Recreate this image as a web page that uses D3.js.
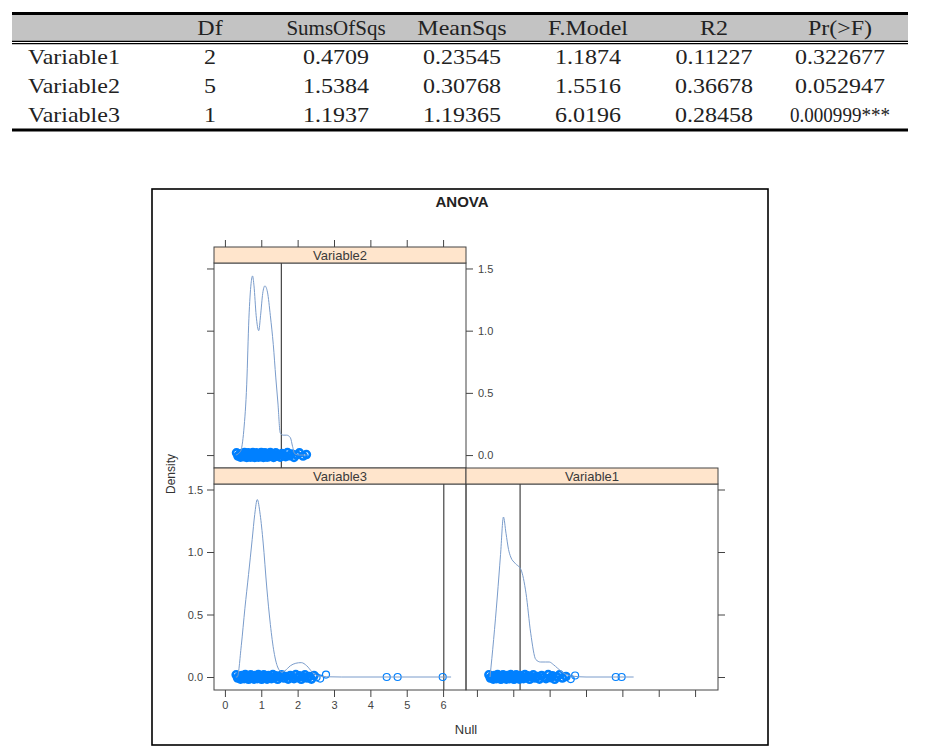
<!DOCTYPE html>
<html>
<head>
<meta charset="utf-8">
<script src="https://cdn.jsdelivr.net/npm/d3@7"></script>
<style>
  body { margin: 0; background: #fff; }
  svg { display: block; }
</style>
</head>
<body>
<div id="chart"></div>
<script>
// anova table + lattice style permutation density panels

// table data
const colNames = ['Df', 'SumsOfSqs', 'MeanSqs', 'F.Model', 'R2', 'Pr(>F)']
const rowNames = ['Variable1', 'Variable2', 'Variable3']
const dfCol = ['2', '5', '1']
const sumsOfSqs = ['0.4709', '1.5384', '1.1937']
const meanSqs = ['0.23545', '0.30768', '1.19365']
const fModel = ['1.1874', '1.5516', '6.0196']
const r2Col = ['0.11227', '0.36678', '0.28458']
const prCol = ['0.322677', '0.052947', '0.000999***']

// density curves (x = Null, y = Density)
const var1DensX = [0.36, 0.46, 0.56, 0.65, 0.73, 0.80, 0.87, 0.93, 1.05, 1.21, 1.35, 1.48, 1.62, 1.75, 1.88, 1.99, 2.10, 2.22, 2.39, 2.60, 3.00, 4.31]
const var1DensY = [0, 0.30, 0.64, 0.98, 1.28, 1.15, 1.02, 0.96, 0.91, 0.86, 0.67, 0.35, 0.14, 0.12, 0.12, 0.12, 0.10, 0.07, 0.03, 0.008, 0, 0]
const var2DensX = [0.30, 0.43, 0.52, 0.60, 0.66, 0.72, 0.76, 0.80, 0.86, 0.93, 0.98, 1.04, 1.10, 1.17, 1.25, 1.33, 1.40, 1.46, 1.52, 1.60, 1.70, 1.80, 1.86, 1.92, 2.05, 2.25]
const var2DensY = [0, 0.03, 0.20, 0.57, 1.10, 1.38, 1.44, 1.36, 1.12, 1.00, 1.12, 1.30, 1.36, 1.31, 1.12, 0.89, 0.62, 0.41, 0.18, 0.16, 0.16, 0.14, 0.07, 0.01, 0, 0]
const var3DensX = [0.30, 0.34, 0.45, 0.55, 0.65, 0.75, 0.82, 0.89, 0.97, 1.05, 1.15, 1.25, 1.35, 1.45, 1.56, 1.65, 1.80, 1.95, 2.10, 2.25, 2.40, 2.55, 2.80, 3.20, 6.22]
const var3DensY = [0, 0, 0.25, 0.55, 0.82, 1.10, 1.30, 1.42, 1.30, 1.08, 0.72, 0.42, 0.20, 0.08, 0.04, 0.05, 0.09, 0.11, 0.115, 0.09, 0.04, 0.01, 0.002, 0, 0]

// permuted F values shown as points along y = 0
const var1Null = [0.33, 0.37, 0.41, 0.45, 0.48, 0.51, 0.54, 0.57, 0.60, 0.63, 0.66, 0.69, 0.72, 0.75, 0.78, 0.81, 0.84, 0.87, 0.90, 0.93, 0.96, 0.99, 1.02, 1.05, 1.08, 1.11, 1.14, 1.17, 1.20, 1.24, 1.28, 1.32, 1.36, 1.40, 1.45, 1.50, 1.55, 1.60, 1.66, 1.72, 1.78, 1.84, 1.90, 1.96, 2.02, 2.08, 2.14, 2.20, 2.27, 2.35, 2.45, 2.58, 2.70, 3.82, 3.98]
const var2Null = [0.32, 0.36, 0.40, 0.43, 0.46, 0.49, 0.52, 0.54, 0.56, 0.58, 0.60, 0.62, 0.64, 0.66, 0.68, 0.70, 0.72, 0.74, 0.75, 0.77, 0.78, 0.80, 0.82, 0.84, 0.86, 0.88, 0.90, 0.92, 0.94, 0.96, 0.98, 1.00, 1.02, 1.04, 1.06, 1.08, 1.10, 1.12, 1.14, 1.16, 1.18, 1.20, 1.22, 1.25, 1.28, 1.31, 1.34, 1.37, 1.40, 1.44, 1.48, 1.52, 1.57, 1.62, 1.67, 1.72, 1.78, 1.84, 1.90, 1.97, 2.05, 2.15, 2.24]
const var3Null = [0.31, 0.35, 0.39, 0.43, 0.47, 0.50, 0.53, 0.56, 0.59, 0.62, 0.65, 0.68, 0.71, 0.74, 0.77, 0.80, 0.83, 0.86, 0.89, 0.92, 0.95, 0.98, 1.01, 1.04, 1.07, 1.10, 1.13, 1.16, 1.20, 1.24, 1.28, 1.32, 1.36, 1.40, 1.45, 1.50, 1.56, 1.62, 1.68, 1.74, 1.80, 1.85, 1.90, 1.95, 2.00, 2.05, 2.10, 2.15, 2.20, 2.26, 2.32, 2.38, 2.45, 2.52, 2.62, 2.78, 4.45, 4.75, 5.99]

const xTicks = [0, 1, 2, 3, 4, 5, 6]
const yTicks = [0, 0.5, 1.0, 1.5]

const width = 947
const height = 752

const svg = d3.select('#chart').append('svg')
  .attr('width', width).attr('height', height)

// ---------- table ----------
const tbl = svg.append('g').attr('class', 'table')
const tLeft = 12, tRight = 908
const serif = '"Liberation Serif", "DejaVu Serif", serif'

tbl.append('rect').attr('x', tLeft).attr('y', 15).attr('width', tRight - tLeft).attr('height', 26)
  .attr('fill', '#c3c3c3')
tbl.append('line').attr('x1', tLeft).attr('x2', tRight).attr('y1', 13.5).attr('y2', 13.5)
  .attr('stroke', '#000').attr('stroke-width', 3)
tbl.append('line').attr('x1', tLeft).attr('x2', tRight).attr('y1', 41.3).attr('y2', 41.3)
  .attr('stroke', '#000').attr('stroke-width', 1.2)
tbl.append('line').attr('x1', tLeft).attr('x2', tRight).attr('y1', 43.6).attr('y2', 43.6)
  .attr('stroke', '#000').attr('stroke-width', 1.2)
tbl.append('line').attr('x1', tLeft).attr('x2', tRight).attr('y1', 130).attr('y2', 130)
  .attr('stroke', '#000').attr('stroke-width', 3)

const colX = d3.scalePoint().domain(colNames).range([210, 840])
const rowY = d3.scalePoint().domain(rowNames).range([64, 122])

// wide serif look: stretch glyphs horizontally
const wide = s => (s === 'SumsOfSqs' ? 1.05 : 1.2)

tbl.selectAll('text.head')
  .data(colNames)
  .join('text')
  .attr('class', 'head')
  .attr('transform', d => 'translate(' + colX(d) + ',35) scale(' + wide(d) + ',1)')
  .attr('text-anchor', 'middle')
  .style('font-family', serif)
  .style('font-size', '20px')
  .attr('fill', '#222')
  .text(d => d)

tbl.selectAll('text.rowname')
  .data(rowNames)
  .join('text')
  .attr('class', 'rowname')
  .attr('transform', d => 'translate(28,' + rowY(d) + ') scale(1.2,1)')
  .style('font-family', serif)
  .style('font-size', '20px')
  .attr('fill', '#222')
  .text(d => d)

const columns = [dfCol, sumsOfSqs, meanSqs, fModel, r2Col, prCol]
const cells = []
columns.forEach((col, ci) => {
  col.forEach((v, ri) => cells.push({ col: colNames[ci], row: rowNames[ri], v: v }))
})

tbl.selectAll('text.cell')
  .data(cells)
  .join('text')
  .attr('class', 'cell')
  .attr('transform', d => {
    const s = d.v.indexOf('*') >= 0 ? 1 : 1.2
    return 'translate(' + colX(d.col) + ',' + rowY(d.row) + ') scale(' + s + ',1)'
  })
  .attr('text-anchor', 'middle')
  .style('font-family', serif)
  .style('font-size', '20px')
  .attr('textLength', d => d.v.indexOf('*') >= 0 ? 100 : null)
  .attr('lengthAdjust', 'spacingAndGlyphs')
  .attr('fill', '#222')
  .text(d => d.v)

// ---------- density plot ----------
const sans = '"Liberation Sans", Arial, sans-serif'
const ink = '#444'
const blue = '#0080ff'

svg.append('rect').attr('x', 152).attr('y', 189).attr('width', 616).attr('height', 556)
  .attr('fill', 'none').attr('stroke', '#000').attr('stroke-width', 1.6)

svg.append('text').attr('x', 462).attr('y', 207)
  .attr('text-anchor', 'middle')
  .style('font-family', sans).style('font-size', '15px').style('font-weight', 'bold')
  .attr('fill', '#222')
  .text('ANOVA')

const colLeft = [214, 466]
const panelW = 252
const rows = [
  { strip: 247, top: 263, bottom: 468 },
  { strip: 468, top: 484, bottom: 690 }
]

const xScale = d3.scaleLinear().domain([-0.3, 6.63]).range([0, panelW])

const jitter = [-2.2, 1.0, -0.5, 2.1, -1.5, 0.3, 1.6, -2.4, 0.7, -1.1, 2.3, -0.1]

const panels = [
  { name: 'Variable2', col: 0, row: 0, dx: var2DensX, dy: var2DensY, pts: var2Null, obs: +fModel[1] },
  { name: 'Variable3', col: 0, row: 1, dx: var3DensX, dy: var3DensY, pts: var3Null, obs: +fModel[2] },
  { name: 'Variable1', col: 1, row: 1, dx: var1DensX, dy: var1DensY, pts: var1Null, obs: +fModel[0] }
]

panels.forEach(p => {
  const r = rows[p.row]
  const x0 = colLeft[p.col]
  const g = svg.append('g').attr('transform', 'translate(' + x0 + ',0)')
  const yScale = d3.scaleLinear().domain([-0.104, 1.544]).range([r.bottom, r.top])

  const clipId = 'clip-' + p.name
  g.append('clipPath').attr('id', clipId)
    .append('rect').attr('x', 0).attr('y', r.top).attr('width', panelW).attr('height', r.bottom - r.top)

  const inner = g.append('g').attr('clip-path', 'url(#' + clipId + ')')

  // observed statistic
  inner.append('line')
    .attr('x1', xScale(p.obs)).attr('x2', xScale(p.obs))
    .attr('y1', r.top).attr('y2', r.bottom)
    .attr('stroke', '#333').attr('stroke-width', 1.1)

  // null points
  inner.selectAll('circle')
    .data(p.pts)
    .join('circle')
    .attr('cx', d => xScale(d))
    .attr('cy', (d, i) => yScale(0) + (d < 3 ? jitter[i % jitter.length] : 0))
    .attr('r', 3.5)
    .attr('fill', 'none')
    .attr('stroke', blue)
    .attr('stroke-width', d => (d < 2.5 ? 2.6 : 1.2))

  // density line
  const pts = p.dx.map((v, i) => [v, p.dy[i]])
  inner.append('path')
    .datum(pts)
    .attr('fill', 'none')
    .attr('stroke', '#7a9ccb')
    .attr('stroke-width', 1)
    .attr('d', d3.line().x(d => xScale(d[0])).y(d => yScale(d[1])).curve(d3.curveMonotoneX))

  // panel border
  g.append('rect').attr('x', 0).attr('y', r.top).attr('width', panelW).attr('height', r.bottom - r.top)
    .attr('fill', 'none').attr('stroke', ink).attr('stroke-width', 1)

  // strip
  g.append('rect').attr('x', 0).attr('y', r.strip).attr('width', panelW).attr('height', r.top - r.strip)
    .attr('fill', '#ffe5cc').attr('stroke', ink).attr('stroke-width', 1)
  g.append('text')
    .attr('x', panelW / 2).attr('y', r.top - 3.5)
    .attr('text-anchor', 'middle')
    .style('font-family', sans).style('font-size', '13px')
    .attr('fill', '#3a3a3a')
    .text(p.name)

  // axes
  const styleAxis = sel => {
    sel.select('.domain').remove()
    sel.selectAll('line').attr('stroke', ink)
    sel.selectAll('text').style('font-family', sans).style('font-size', '11px').attr('fill', '#444')
  }

  if (p.row === 1) {
    const ax = d3.axisBottom(xScale).tickValues(xTicks).tickSize(7).tickPadding(4).tickFormat(d3.format('d'))
    if (p.col === 1) ax.tickFormat('')
    g.append('g').attr('transform', 'translate(0,' + r.bottom + ')').call(ax).call(styleAxis)
  } else {
    const ax = d3.axisTop(xScale).tickValues(xTicks).tickSize(7).tickFormat('')
    g.append('g').attr('transform', 'translate(0,' + r.strip + ')').call(ax).call(styleAxis)
  }

  if (p.col === 0) {
    const ax = d3.axisLeft(yScale).tickValues(yTicks).tickSize(7).tickPadding(4).tickFormat(d3.format('.1f'))
    if (p.row === 0) ax.tickFormat('')
    g.append('g').call(ax).call(styleAxis)
  }
  if (p.row === 0 || p.col === 1) {
    const ax = d3.axisRight(yScale).tickValues(yTicks).tickSize(7).tickPadding(5).tickFormat(d3.format('.1f'))
    if (p.row === 1) ax.tickFormat('')
    g.append('g').attr('transform', 'translate(' + panelW + ',0)').call(ax).call(styleAxis)
  }
})

// axis titles
svg.append('text')
  .attr('transform', 'translate(175,474) rotate(-90)')
  .attr('text-anchor', 'middle')
  .style('font-family', sans).style('font-size', '12px')
  .attr('fill', '#333')
  .text('Density')

svg.append('text')
  .attr('x', 466).attr('y', 734)
  .attr('text-anchor', 'middle')
  .style('font-family', sans).style('font-size', '13px')
  .attr('fill', '#333')
  .text('Null')
</script>
</body>
</html>
